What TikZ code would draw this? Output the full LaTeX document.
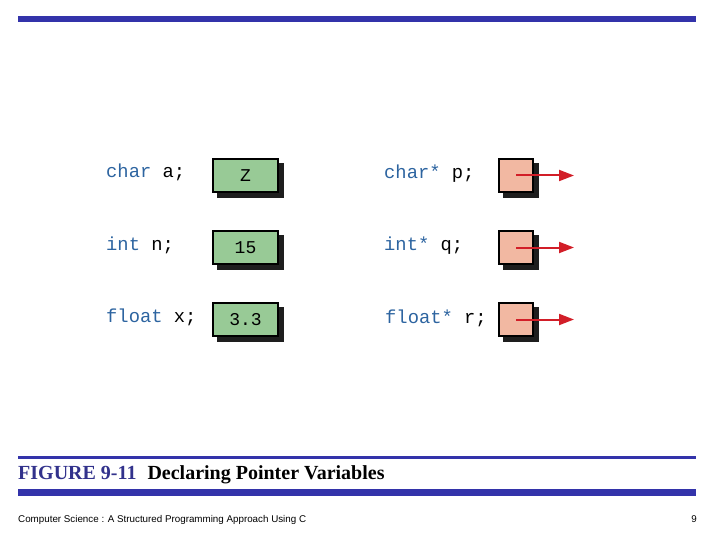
\documentclass[tikz,border=0pt]{standalone}
\usepackage{fontspec}
\setmainfont{Liberation Serif}
\newfontfamily\codefont{Liberation Mono}
\newfontfamily\footfont{Liberation Sans}
\usetikzlibrary{arrows.meta}
\definecolor{barblue}{RGB}{51,51,170}
\definecolor{kwblue}{RGB}{45,100,160}
\definecolor{valgreen}{RGB}{152,202,150}
\definecolor{ptrpink}{RGB}{242,184,162}
\definecolor{arrowred}{RGB}{210,30,40}
\definecolor{capblue}{RGB}{50,50,140}
\definecolor{shadowc}{RGB}{30,30,30}
\begin{document}
\begin{tikzpicture}[x=1pt,y=-1pt,
  decl/.style={anchor=base west, inner sep=0pt, font=\codefont\fontsize{18.8}{18.8}\selectfont},
  boxbase/.style={draw=black, line width=1.2pt, minimum height=33pt, inner sep=0pt,
    font=\codefont\fontsize{18}{18}\selectfont,
    preaction={fill=shadowc, draw=shadowc, transform canvas={shift={(5pt,-5pt)}}}},
  valbox/.style={boxbase, fill=valgreen, minimum width=65pt},
  ptrbox/.style={boxbase, fill=ptrpink, minimum width=34pt},
  ptrarrow/.style={arrowred, line width=2pt, -{Triangle[length=15pt,width=11pt]}},
  bar/.style={fill=barblue, draw=none}]
\useasboundingbox (0,0) rectangle (720,540);
% bars
\fill[bar] (18,16) rectangle (696,22.5);
\fill[bar] (18,456) rectangle (696,458.5);
\fill[bar] (18,489) rectangle (696,495.5);
% declarations (left)
\node[decl] (da) at (106,178) {\textcolor{kwblue}{char} a;};
\node[decl] (dn) at (106,250) {\textcolor{kwblue}{int} n;};
\node[decl] (dx) at (106,322) {\textcolor{kwblue}{float} x;};
% value boxes
\node[valbox] (va) at (245.5,175.5) {Z};
\node[valbox] (vn) at (245.5,247.5) {15};
\node[valbox] (vx) at (245.5,319.5) {3.3};
% declarations (right)
\node[decl] (dp) at (384,179) {\textcolor{kwblue}{char*} p;};
\node[decl] (dq) at (384,251) {\textcolor{kwblue}{int*} q;};
\node[decl] (dr) at (385,323) {\textcolor{kwblue}{float*} r;};
% pointer boxes
\node[ptrbox] (pp) at (516,175.5) {};
\node[ptrbox] (pq) at (516,247.5) {};
\node[ptrbox] (pr) at (516,319.5) {};
\coordinate (ep) at (574,175.5);
\coordinate (eq) at (574,247.5);
\coordinate (er) at (574,319.5);
\draw[ptrarrow] (pp.center) -- (ep);
\draw[ptrarrow] (pq.center) -- (eq);
\draw[ptrarrow] (pr.center) -- (er);
% caption
\node[anchor=base west, inner sep=0pt, font=\fontsize{20}{20}\selectfont\bfseries] (cap) at (18,479)
  {\textcolor{capblue}{FIGURE 9-11}\hspace{0.55em}Declaring Pointer Variables};
% footer
\node[anchor=base west, inner sep=0pt, font=\footfont\fontsize{9.8}{10}\selectfont] (foot) at (18,522)
  {Computer Science : A Structured Programming Approach Using C};
\node[anchor=base east, inner sep=0pt, font=\footfont\fontsize{9.8}{10}\selectfont] (pg) at (697,522) {9};
\end{tikzpicture}
\end{document}
